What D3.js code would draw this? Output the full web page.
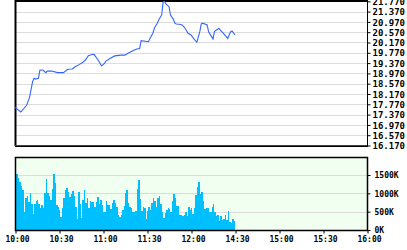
<!DOCTYPE html>
<meta charset="utf-8">
<style>
  body { margin: 0; background: #fff; }
  svg text { font-family: "DejaVu Sans Mono", monospace; font-weight: bold; fill: #000; }
</style>
<svg width="407" height="250"></svg>
<script src="https://d3js.org/d3.v7.min.js"></script>
<script>

// price line (time, price)
var priceTimes = ["10:00","10:04","10:08","10:10","10:12","10:13","10:14","10:16","10:17","10:19",
  "10:21","10:22","10:25","10:29","10:33","10:36","10:39","10:41","10:44","10:46",
  "10:48","10:50","10:53","10:54","10:57","10:59","11:01","11:02","11:05","11:08",
  "11:12","11:15","11:17","11:20","11:23","11:25","11:26","11:31","11:32","11:34",
  "11:35","11:37","11:38","11:40","11:41","11:42","11:43","11:45","11:46","11:48",
  "11:49","11:50","11:52","11:54","11:56","11:58","12:00","12:02","12:04","12:06",
  "12:07","12:08","12:11","12:12","12:15","12:16","12:19","12:20","12:22","12:24",
  "12:25","12:27","12:28","12:30"];
var prices = [17.65,17.47,17.74,18.06,18.65,18.78,18.75,18.78,19.10,19.10,
  19.00,19.06,19.06,19.00,19.00,19.13,19.14,19.23,19.32,19.39,
  19.49,19.66,19.71,19.70,19.46,19.26,19.36,19.45,19.56,19.65,
  19.68,19.68,19.75,19.84,19.92,19.94,20.24,20.20,20.33,20.53,
  20.72,20.92,21.04,21.24,21.75,21.76,21.66,21.56,21.24,21.07,
  20.92,20.89,20.88,20.85,20.72,20.53,20.46,20.31,20.18,20.59,
  20.89,20.92,20.85,20.59,20.31,20.59,20.72,20.65,20.53,20.40,
  20.33,20.59,20.62,20.46];

// volume per minute from 10:00, in thousands
var volumes = [1090,1520,1430,1300,1210,1090,480,880,940,755,
  1000,700,430,700,800,820,700,610,680,590,
  1000,1390,1000,940,830,1120,1540,1270,680,640,
  540,365,590,860,1090,1140,1050,900,970,1060,
  920,640,300,1050,700,320,830,1090,730,880,
  590,780,770,755,640,770,900,700,820,680,
  500,500,790,680,680,560,730,820,750,640,
  410,360,410,550,660,1000,1100,750,640,590,
  480,480,520,1120,1370,850,520,640,590,300,
  520,630,550,730,880,800,640,880,940,700,
  480,340,460,550,590,560,480,780,970,860,
  650,660,400,410,370,410,500,390,640,550,
  590,430,610,950,1160,1320,970,1050,800,560,
  590,600,500,500,640,700,500,390,410,250,
  380,270,300,410,280,520,220,180,300,250];

var timeTicks = ["10:00","10:30","11:00","11:30","12:00","14:30","15:00","15:30","16:00"];
var priceTicks = [16.17,16.57,16.97,17.37,17.77,18.17,18.57,18.97,19.37,19.77,20.17,20.57,20.97,21.37,21.77];
var volumeTicks = [0, 500, 1000, 1500];

function mins(s) { var p = s.split(":"); return +p[0] * 60 + +p[1]; }

var svg = d3.select("svg"),
    left = 15, right = 367;

// morning 10:00-12:30 then afternoon 14:30-16:00, the lunch gap collapsed
var x = d3.scaleLinear()
    .domain([600, 750, 870, 960])
    .range([left, left + (right - left) * 150 / 240, left + (right - left) * 150 / 240, right]);

var y = d3.scaleLinear().domain([16.17, 21.77]).range([145.5, 1.3]);
var yv = d3.scaleLinear().domain([0, 2000]).range([230, 156.7]);

// ---- top price panel ----
var pg = svg.append("g");

pg.selectAll(".grid")
    .data(priceTicks.slice(1, -1))
    .enter().append("line")
    .attr("x1", left).attr("x2", right)
    .attr("y1", function (d) { return Math.round(y(d)) + 0.5; })
    .attr("y2", function (d) { return Math.round(y(d)) + 0.5; })
    .style("stroke", "#dcdcdc");

pg.append("line").attr("x1", left).attr("x2", right).attr("y1", 1).attr("y2", 1)
    .style("stroke", "#000").style("stroke-width", 2);
pg.append("line").attr("x1", left + 0.5).attr("x2", left + 0.5).attr("y1", 0).attr("y2", 146)
    .style("stroke", "#000").style("stroke-width", 2);
pg.append("line").attr("x1", right + 0.5).attr("x2", right + 0.5).attr("y1", 0).attr("y2", 147)
    .style("stroke", "#000");
pg.append("line").attr("x1", left).attr("x2", right).attr("y1", 146.5).attr("y2", 146.5)
    .style("stroke", "#000");
pg.append("line").attr("x1", left).attr("x2", right).attr("y1", 145.5).attr("y2", 145.5)
    .style("stroke", "#e00000");

var yAxis = d3.axisRight(y).tickValues(priceTicks).tickSize(3).tickPadding(2)
    .tickFormat(d3.format(".3f"));
pg.append("g")
    .attr("transform", "translate(" + (right + 0.5) + ",0)")
    .call(yAxis)
    .call(function (g) { g.select(".domain").remove(); })
    .call(function (g) { g.selectAll("text").style("font-size", "9px").attr("dy", "0.35em"); });

var line = d3.line()
    .x(function (d, i) { return x(mins(priceTimes[i])); })
    .y(function (d) { return y(d); });

pg.append("path")
    .datum(prices)
    .attr("d", line)
    .style("fill", "none")
    .style("stroke", "#3366ff")
    .style("stroke-width", 1.1);

// ---- bottom volume panel ----
var vg = svg.append("g");

vg.append("rect")
    .attr("x", left).attr("y", yv(2000))
    .attr("width", right - left).attr("height", yv(0) - yv(2000))
    .style("fill", "#f0fff0");

vg.selectAll(".vgrid")
    .data(volumeTicks.slice(1))
    .enter().append("line")
    .attr("x1", left).attr("x2", right)
    .attr("y1", function (d) { return Math.round(yv(d)) + 0.5; })
    .attr("y2", function (d) { return Math.round(yv(d)) + 0.5; })
    .style("stroke", "#dcdcdc");

vg.selectAll(".bar")
    .data(volumes)
    .enter().append("rect")
    .attr("x", function (d, i) { return x(600 + i); })
    .attr("width", function (d, i) { return x(601 + i) - x(600 + i); })
    .attr("y", function (d) { return yv(d); })
    .attr("height", function (d) { return yv(0) - yv(d); })
    .style("fill", "#00bfff")
    .style("shape-rendering", "crispEdges");

vg.append("rect")
    .attr("x", left + 0.5).attr("y", Math.round(yv(2000)) + 0.5)
    .attr("width", right - left).attr("height", Math.round(yv(0)) - Math.round(yv(2000)))
    .style("fill", "none").style("stroke", "#000").style("stroke-width", 1.5);

var vAxis = d3.axisRight(yv).tickValues(volumeTicks).tickSize(3).tickPadding(4)
    .tickFormat(function (d) { return d + "K"; });
vg.append("g")
    .attr("transform", "translate(" + (right + 0.5) + ",0)")
    .call(vAxis)
    .call(function (g) { g.select(".domain").remove(); })
    .call(function (g) { g.selectAll("text").style("font-size", "8px").attr("dy", "0.35em"); });

var xAxis = d3.axisBottom(x).tickValues(timeTicks.map(mins)).tickSize(3).tickPadding(3)
    .tickFormat(function (d, i) { return timeTicks[i]; });
vg.append("g")
    .attr("transform", "translate(0.5," + (Math.round(yv(0)) + 0.5) + ")")
    .call(xAxis)
    .call(function (g) { g.select(".domain").remove(); })
    .call(function (g) { g.selectAll("text").style("font-size", "8px").attr("dx", "1.5"); });

</script>
